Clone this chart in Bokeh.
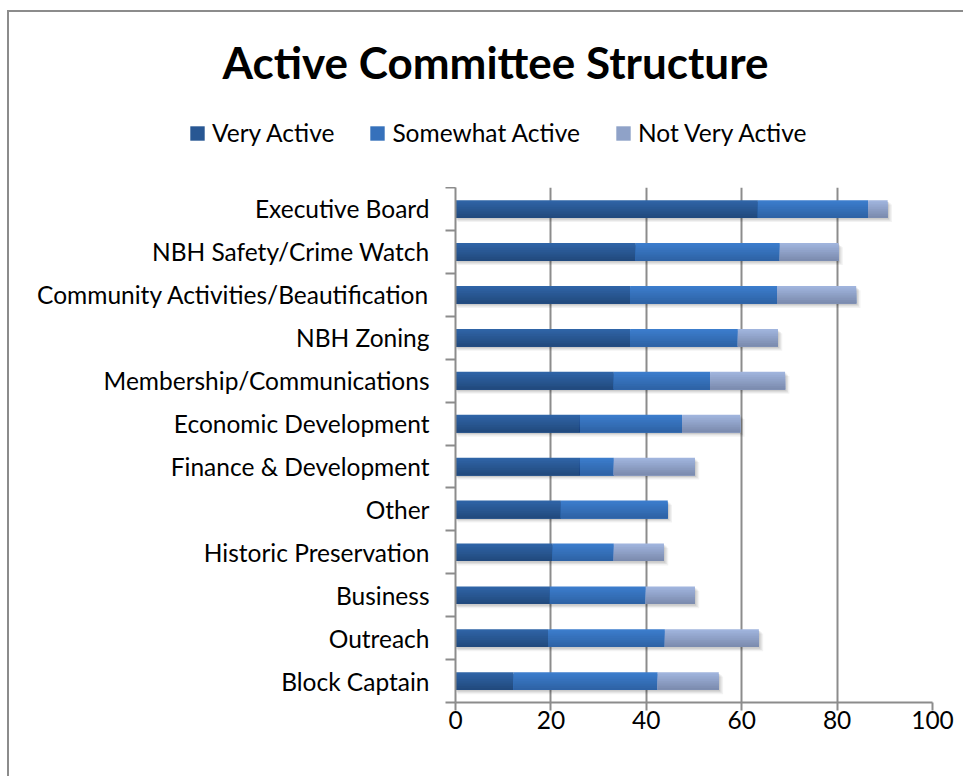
import numpy as np
from bokeh.plotting import figure
from bokeh.layouts import column
from bokeh.models import Range1d, FixedTicker, Legend, LegendItem
from bokeh.core.properties import value
from bokeh.embed import file_html
from bokeh.resources import INLINE

categories = ["Executive Board", "NBH Safety/Crime Watch", "Community Activities/Beautification",
              "NBH Zoning", "Membership/Communications", "Economic Development",
              "Finance & Development", "Other", "Historic Preservation", "Business",
              "Outreach", "Block Captain"]
very_active = [63.4, 37.8, 36.6, 36.6, 33.2, 26.1, 26.1, 22.1, 20.4, 19.8, 19.4, 12.2]
somewhat_active = [23.1, 30.2, 30.8, 22.6, 20.2, 21.4, 7.1, 22.4, 12.8, 20.1, 24.5, 30.2]
not_very_active = [4.1, 12.3, 16.6, 8.4, 15.7, 12.2, 17.0, 0.0, 10.5, 10.3, 19.7, 12.8]
series_names = ["Very Active", "Somewhat Active", "Not Very Active"]
x_ticks = [0, 20, 40, 60, 80, 100]
chart_title = "Active Committee Structure"

FONT = "Lato"
LBL = "24.5px"
grad = [("#2f64a6", "#224a7e"), ("#3c7dcc", "#2e63a6"), ("#a0b4dd", "#7c8caf")]
legend_col = ["#285793", "#3671bb", "#8fa2c8"]
GRID = "#8c8c8c"
W = 963
TOP_H = 187
MAIN_H = 589

n = len(categories)
ypos = np.array([n - 0.5 - i for i in range(n)])

# ---------- header figure: title + legend ----------
head = figure(width=W, height=TOP_H, output_backend="svg", toolbar_location=None,
              x_range=Range1d(0, W), y_range=Range1d(TOP_H, 0),
              x_axis_location=None, y_axis_location=None, title=None)
head.frame_align = False
head.min_border_left = head.min_border_right = head.min_border_top = head.min_border_bottom = 0
head.outline_line_color = None
head.grid.visible = False
head.background_fill_color = None
head.border_fill_color = None
head.styles = {
    "background": "linear-gradient(%s,%s) 7px 10px / 2px 100%% no-repeat, "
                  "linear-gradient(%s,%s) 7px 10px / 100%% 2px no-repeat, white" % (GRID, GRID, GRID, GRID)
}
head.text(x=[495], y=[61], text=[chart_title], text_font=value(FONT), text_font_size="44px",
          text_font_style="bold", text_align="center", text_baseline="middle", text_color="black")

# legend swatch renderers (placed outside the visible range, they only feed the legend)
items = []
for i, name in enumerate(series_names):
    r = head.quad(left=[-50], right=[-40], top=[-50], bottom=[-40],
                  fill_color=legend_col[i], line_color=None)
    items.append(LegendItem(label=name, renderers=[r]))
legend = Legend(items=items, orientation="horizontal", location=(188, 40),
                glyph_width=18, glyph_height=18, label_standoff=6, spacing=34,
                padding=0, margin=0, border_line_color=None, background_fill_alpha=0,
                label_text_font=FONT, label_text_font_size=LBL, label_text_color="black")
head.add_layout(legend, "center")

# ---------- main chart ----------
p = figure(width=W, height=MAIN_H, output_backend="svg", toolbar_location=None,
           x_range=Range1d(0, 100), y_range=Range1d(0, n), title=None)
p.frame_align = False
p.min_border_left = 455
p.min_border_right = 31
p.min_border_top = 0
p.min_border_bottom = 74
p.outline_line_color = None
p.background_fill_color = "white"
p.border_fill_color = None
p.styles = {"background": "linear-gradient(%s,%s) 7px 0px / 2px 100%% no-repeat, white" % (GRID, GRID)}


def hexmix(c1, c2, t):
    a = [int(c1[i:i + 2], 16) for i in (1, 3, 5)]
    b = [int(c2[i:i + 2], 16) for i in (1, 3, 5)]
    return "#%02x%02x%02x" % tuple(int(round(a[k] + (b[k] - a[k]) * t)) for k in range(3))


bar_h = 0.41
nb = 10
vals = [np.array(very_active), np.array(somewhat_active), np.array(not_very_active)]
totals = vals[0] + vals[1] + vals[2]

# soft shadow
for sx, sy, a in [(0.9, 0.10, 0.05), (0.6, 0.07, 0.07), (0.3, 0.04, 0.09)]:
    p.quad(left=np.zeros(n) + sx * 0.5, right=totals + sx, top=ypos + bar_h / 2 - sy,
           bottom=ypos - bar_h / 2 - sy, fill_color="black", fill_alpha=a, line_color=None)

left = np.zeros(n)
for s, v in enumerate(vals):
    right = left + v
    for b in range(nb):
        t = b / (nb - 1)
        top = ypos + bar_h / 2 - b * bar_h / nb
        p.quad(left=left, right=right, top=top, bottom=ypos - bar_h / 2,
               fill_color=hexmix(grad[s][0], grad[s][1], t), line_color=None)
    left = right

p.xgrid.ticker = FixedTicker(ticks=x_ticks)
p.xgrid.grid_line_color = GRID
p.xgrid.grid_line_width = 2
p.ygrid.grid_line_color = None

xa = p.xaxis[0]
xa.ticker = FixedTicker(ticks=x_ticks)
xa.axis_line_color = GRID
xa.axis_line_width = 2
xa.major_tick_line_color = GRID
xa.major_tick_line_width = 2
xa.major_tick_out = 8
xa.major_tick_in = 0
xa.minor_tick_line_color = None
xa.major_label_text_font = FONT
xa.major_label_text_font_size = LBL
xa.major_label_text_color = "black"
xa.major_label_standoff = 0

ya = p.yaxis[0]
ya.ticker = FixedTicker(ticks=list(ypos), minor_ticks=list(range(n + 1)))
ya.major_label_overrides = {float(y): c for y, c in zip(ypos, categories)}
ya.axis_line_color = GRID
ya.axis_line_width = 2
ya.major_tick_line_color = None
ya.minor_tick_line_color = GRID
ya.minor_tick_line_width = 2
ya.minor_tick_out = 10
ya.minor_tick_in = 0
ya.major_label_text_font = FONT
ya.major_label_text_font_size = LBL
ya.major_label_text_color = "black"
ya.major_label_standoff = 16

layout = column(head, p, spacing=0)
open("out.html", "w").write(file_html(layout, INLINE))
